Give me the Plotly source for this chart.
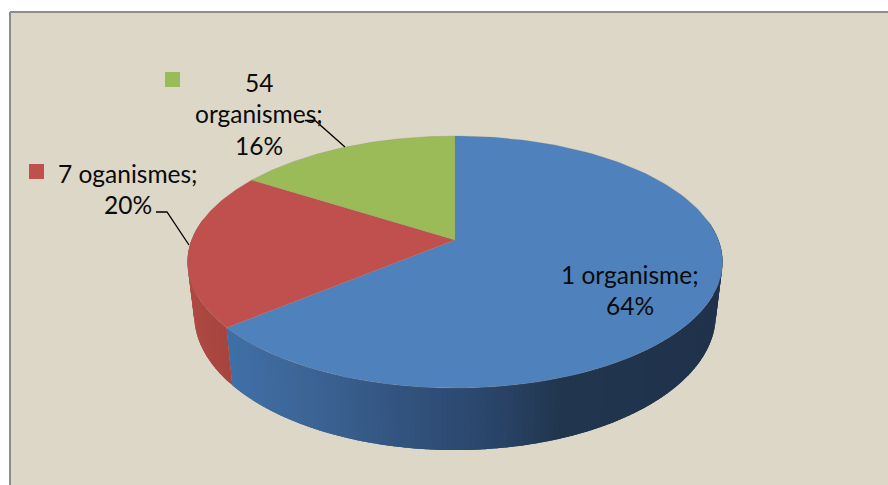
import numpy as np
import plotly.graph_objects as go

categories = ["1 organisme", "7 oganismes", "54 organismes"]
values = [64, 20, 16]
top_colors = ["#4F81BD", "#C0504D", "#9BBB59"]
label_lines = [["1 organisme;", "64%"], ["7 oganismes;", "20%"], ["54", "organismes;", "16%"]]

W, H = 888, 485
CX, CY = 455, 240      # pie apex on the picture
A, B, K = 263.4, 122.2, 0.1746   # perspective of the disc
DEPTH, SHRINK = 51.2, 0.975


def project(theta, lower=False):
    """theta: clockwise angle from 12 o'clock, radians."""
    sx, sy = np.sin(theta), np.cos(theta)
    w = 1 + K * sy
    x = A * sx / w
    y = -B * sy / w
    if lower:
        return CX + SHRINK * x, CY + y + DEPTH / w
    return CX + x, CY + y


def hex_rgb(h):
    return np.array([int(h[i:i + 2], 16) for i in (1, 3, 5)], float)


def ramp(x, stops):
    xs = [s[0] for s in stops]
    c = [np.interp(x, xs, [hex_rgb(s[1])[i] for s in stops]) for i in range(3)]
    return "rgb(%d,%d,%d)" % tuple(c)


side_stops = [
    [(226, "#4070A9"), (300, "#3D6697"), (400, "#335480"), (500, "#2A4468"), (560, "#22364F"), (730, "#20324C")],
    [(185, "#B04A45"), (232, "#A5443D")],
    [(185, "#B04A45"), (232, "#A5443D")],
]

fig = go.Figure()


def poly(xs, ys, fill, line=None, lw=0.0):
    fig.add_trace(go.Scatter(
        x=list(xs), y=list(ys), mode="lines", fill="toself", fillcolor=fill,
        line=dict(color=line or fill, width=lw), hoverinfo="skip", showlegend=False))


# Background panel
poly([10, 893, 893, 10, 10], [12, 12, 490, 490, 12], "#DDD7C7", "#8C8C8C", 2)

edges = np.cumsum([0] + values) / sum(values) * 2 * np.pi

# Side wall: overlapping thin bands, shaded along x
for i in range(len(values)):
    lo, hi = edges[i], edges[i + 1]
    n = max(2, int((hi - lo) / np.radians(1.0)))
    t = np.linspace(lo, hi, n + 1)
    step = t[1] - t[0]
    for a, b in zip(t[:-1], t[1:]):
        if np.cos((a + b) / 2) > 0.15:
            continue
        end = min(b + 1.2 * step, hi)
        x1, y1 = project(a)
        x2, y2 = project(end)
        x3, y3 = project(end, True)
        x4, y4 = project(a, True)
        col = ramp(float(project((a + b) / 2)[0]), side_stops[i])
        poly([x1, x2, x3, x4, x1], [y1, y2, y3, y4, y1], col)

# Top surface
for i in range(len(values)):
    t = np.linspace(edges[i], edges[i + 1], 160)
    x, y = project(t)
    poly(np.r_[CX, x, CX], np.r_[CY, y, CY], top_colors[i], "rgba(140,130,120,0.45)", 0.5)

# Leader lines
for lx, ly in [([305, 315, 345], [120.5, 120.5, 147]), ([156, 167, 189], [212, 212, 245])]:
    fig.add_trace(go.Scatter(x=lx, y=ly, mode="lines", line=dict(color="#000000", width=1.3),
                             hoverinfo="skip", showlegend=False))

# Legend keys beside the labels
fig.add_trace(go.Scatter(x=[172.5, 36.5], y=[79.5, 171.5], mode="markers",
                         marker=dict(symbol="square", size=15, color=[top_colors[2], top_colors[1]]),
                         hoverinfo="skip", showlegend=False))

# Data labels
label_pos = [(630, 274), (128, 173), (259, 82)]
for lines, (px, py) in zip(label_lines, label_pos):
    for j, s in enumerate(lines):
        fig.add_annotation(x=px, y=py + j * 31.5, text=s, showarrow=False, xref="x", yref="y",
                           xanchor="center", yanchor="middle",
                           font=dict(family="Lato", size=24.5, color="#0A0A0A"))

fig.update_layout(
    width=W, height=H, margin=dict(l=0, r=0, t=0, b=0), autosize=False,
    paper_bgcolor="#FFFFFF", plot_bgcolor="#FFFFFF",
    xaxis=dict(range=[0, W], visible=False, fixedrange=True),
    yaxis=dict(range=[H, 0], visible=False, fixedrange=True),
)
fig.write_html("out.html", config=dict(displayModeBar=False),
               post_script="document.body.style.margin='0';document.documentElement.style.overflow='hidden';")
